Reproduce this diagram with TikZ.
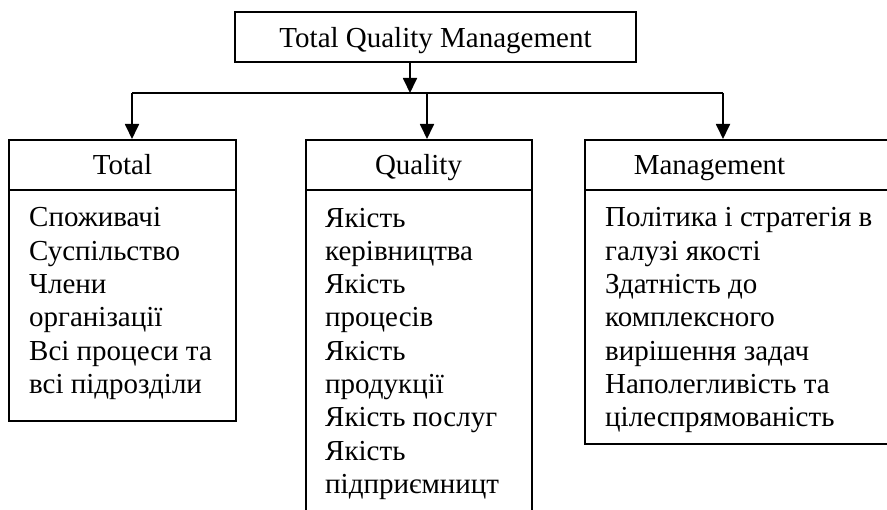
\documentclass[tikz,border=0pt]{standalone}
\usepackage{fontspec}
\setmainfont{Liberation Serif}
\usetikzlibrary{arrows.meta}
\begin{document}
\begin{tikzpicture}[x=1pt,y=-1pt,
  box/.style={draw,line width=1.6pt,inner sep=0pt,anchor=north west},
  hdrtext/.style={font=\fontsize{29}{33}\selectfont,anchor=base,inner sep=0pt},
  bodytext/.style={font=\fontsize{29}{33.3}\selectfont,align=left,anchor=base west,inner sep=0pt},
  arr/.style={line width=1.8pt,-{Triangle[width=14pt,length=15pt]}},
  bus/.style={line width=2pt}]
\useasboundingbox (0,0) rectangle (887,510);
\clip (0,0) rectangle (887,510);
% top box
\node[draw,line width=1.6pt,inner sep=0pt,minimum width=401pt,minimum height=50pt,
      text height=25pt,text depth=3pt,font=\fontsize{29}{33}\selectfont] (tqm) at (435.5,37) {Total Quality Management};
% bus coordinates
\coordinate (bT) at (410,93);
\coordinate (bL) at (132,93);
\coordinate (bM) at (427,93);
\coordinate (bR) at (723,93);
% boxes
\node[box,minimum width=227pt,minimum height=50pt] (tothd) at (8,139) {};
\node[box,minimum width=227pt,minimum height=231pt] (totbd) at (8,189) {};
\node[box,minimum width=226pt,minimum height=50pt] (quahd) at (305,139) {};
\node[box,minimum width=226pt,minimum height=350pt] (quabd) at (305,189) {};
\node[box,minimum width=320pt,minimum height=50pt] (manhd) at (584,139) {};
\node[box,minimum width=320pt,minimum height=254pt] (manbd) at (584,189) {};
% header texts
\node[hdrtext] (tott) at (122.5,175) {Total};
\node[hdrtext] (quat) at (418.5,175) {Quality};
\node[hdrtext] (mant) at (709.5,175) {Management};
% body texts (anchor = baseline of the last line)
\node[bodytext] (totx) at (29,393.5) {Споживачі\\Суспільство\\Члени\\організації\\Всі процеси та\\всі підрозділи};
\node[bodytext] (quax) at (325,493.4) {Якість\\керівництва\\Якість\\процесів\\Якість\\продукції\\Якість послуг\\Якість\\підприємницт};
\node[bodytext] (manx) at (605,426.8) {Політика і стратегія в\\галузі якості\\Здатність до\\комплексного\\вирішення задач\\Наполегливість та\\цілеспрямованість};
% connectors
\draw[bus] (bL) -- (bR);
\draw[arr] (bT |- tqm.south) -- (bT);
\draw[arr] (bL) -- (bL |- tothd.north);
\draw[arr] (bM) -- (bM |- quahd.north);
\draw[arr] (bR) -- (bR |- manhd.north);
\end{tikzpicture}
\end{document}
